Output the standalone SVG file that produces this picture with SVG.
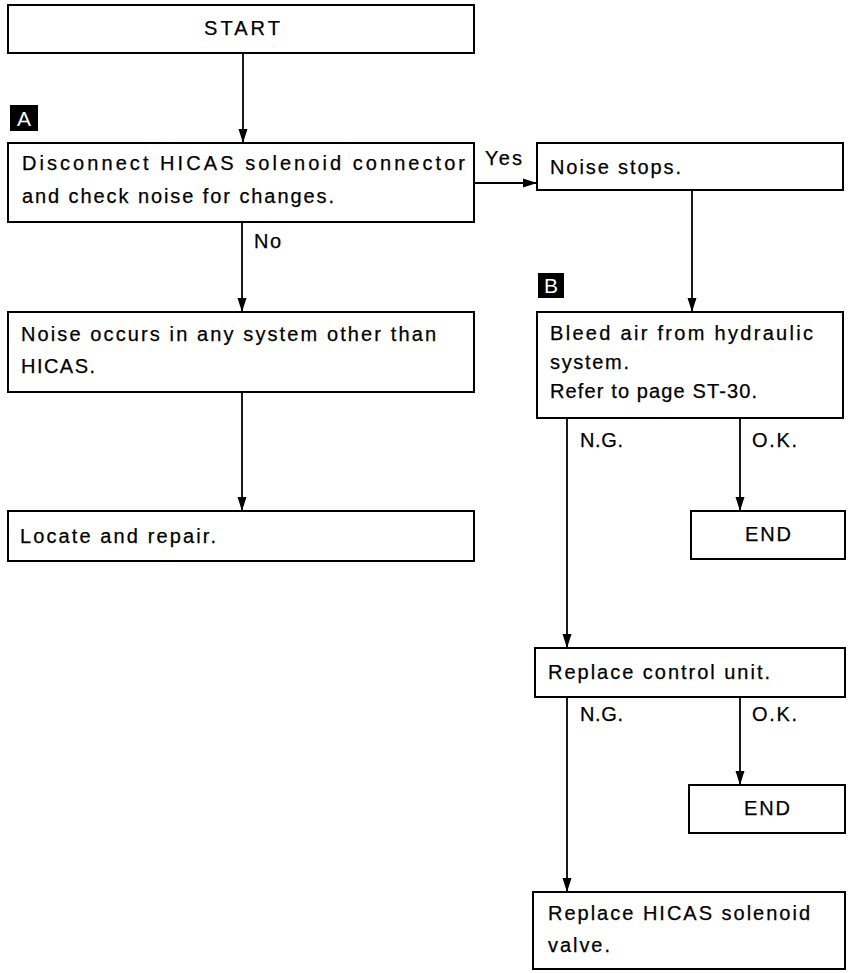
<svg xmlns="http://www.w3.org/2000/svg" width="850" height="973" viewBox="0 0 850 973">
<defs>
<marker id="arr" markerUnits="userSpaceOnUse" markerWidth="14" markerHeight="10" refX="14" refY="5" orient="auto">
<path d="M0,0.5 L14,5 L0,9.5 z" fill="#000"/>
</marker>
<style>
.box{fill:#fff;stroke:#000;stroke-width:2}
.t{font-family:"Liberation Sans",Arial,sans-serif;font-size:20px;fill:#000;stroke:#000;stroke-width:0.25}
.c{fill:none;stroke:#000;stroke-width:1.8}
.badge{fill:#000}
.bt{font-family:"Liberation Sans",Arial,sans-serif;font-size:21px;fill:#fff;text-anchor:middle}
</style>
</defs>
<rect width="850" height="973" fill="#fff"/>
<g id="connectors">
<line class="c" x1="243" y1="53" x2="243" y2="143" marker-end="url(#arr)"/>
<line class="c" x1="242" y1="222" x2="242" y2="312" marker-end="url(#arr)"/>
<line class="c" x1="242" y1="392" x2="242" y2="511" marker-end="url(#arr)"/>
<line class="c" x1="474" y1="183" x2="537" y2="183" marker-end="url(#arr)"/>
<line class="c" x1="692" y1="190" x2="692" y2="312" marker-end="url(#arr)"/>
<line class="c" x1="740" y1="418" x2="740" y2="511" marker-end="url(#arr)"/>
<line class="c" x1="567" y1="418" x2="567" y2="648" marker-end="url(#arr)"/>
<line class="c" x1="740" y1="697" x2="740" y2="785" marker-end="url(#arr)"/>
<line class="c" x1="567" y1="697" x2="567" y2="892" marker-end="url(#arr)"/>
<text class="t" x="254" y="248" textLength="27">No</text>
<text class="t" x="485" y="165" textLength="37">Yes</text>
<text class="t" x="580" y="447" textLength="43">N.G.</text>
<text class="t" x="752" y="447" textLength="45">O.K.</text>
<text class="t" x="580" y="721" textLength="43">N.G.</text>
<text class="t" x="752" y="721" textLength="45">O.K.</text>
</g>
<g id="start">
<rect class="box" x="8" y="5" width="466" height="48"/>
<text class="t" x="204" y="35" textLength="76">START</text>
</g>
<g id="badgeA">
<rect class="badge" x="10" y="105" width="28" height="26"/>
<text class="bt" x="24" y="126">A</text>
</g>
<g id="disconnect">
<rect class="box" x="8" y="143" width="466" height="79"/>
<text class="t" x="22" y="170" textLength="443">Disconnect HICAS solenoid connector</text>
<text class="t" x="22" y="203" textLength="312">and check noise for changes.</text>
</g>
<g id="other">
<rect class="box" x="8" y="312" width="466" height="80"/>
<text class="t" x="21" y="341" textLength="415">Noise occurs in any system other than</text>
<text class="t" x="21" y="373" textLength="74">HICAS.</text>
</g>
<g id="locate">
<rect class="box" x="8" y="511" width="466" height="50"/>
<text class="t" x="20" y="543" textLength="196">Locate and repair.</text>
</g>
<g id="noiseStops">
<rect class="box" x="537" y="143" width="306" height="47"/>
<text class="t" x="550" y="174" textLength="131">Noise stops.</text>
</g>
<g id="badgeB">
<rect class="badge" x="538" y="273" width="26" height="25"/>
<text class="bt" x="551" y="293">B</text>
</g>
<g id="bleed">
<rect class="box" x="537" y="312" width="306" height="106"/>
<text class="t" x="550" y="340" textLength="263">Bleed air from hydraulic</text>
<text class="t" x="550" y="369" textLength="79">system.</text>
<text class="t" x="550" y="398" textLength="207">Refer to page ST-30.</text>
</g>
<g id="end1">
<rect class="box" x="691" y="511" width="154" height="48"/>
<text class="t" x="745" y="541" textLength="46">END</text>
</g>
<g id="control">
<rect class="box" x="535" y="648" width="310" height="49"/>
<text class="t" x="548" y="679" textLength="222">Replace control unit.</text>
</g>
<g id="end2">
<rect class="box" x="689" y="785" width="156" height="48"/>
<text class="t" x="744" y="815" textLength="46">END</text>
</g>
<g id="valve">
<rect class="box" x="533" y="892" width="312" height="77"/>
<text class="t" x="548" y="920" textLength="262">Replace HICAS solenoid</text>
<text class="t" x="548" y="952" textLength="62">valve.</text>
</g>
</svg>
